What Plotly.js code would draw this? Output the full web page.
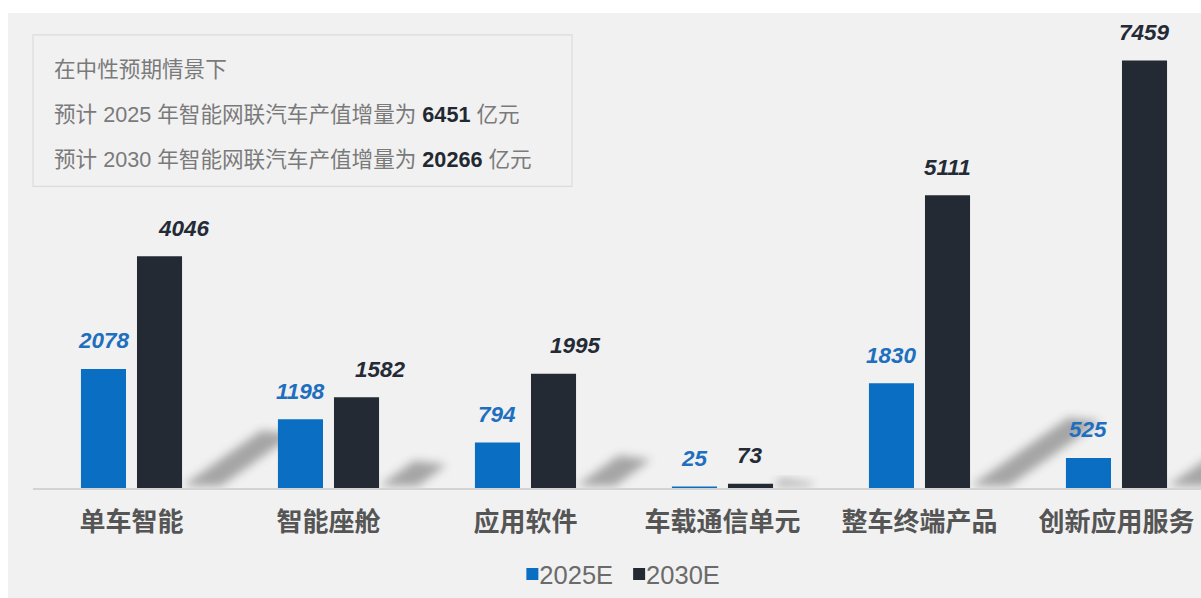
<!DOCTYPE html>
<html>
<head>
<meta charset="utf-8">
<script src="https://cdn.plot.ly/plotly-3.0.1.min.js"></script>
<style>
  html, body { margin: 0; padding: 0; background: #ffffff; width: 1201px; height: 598px; overflow: hidden; }
  #chart { position: absolute; left: 8px; top: 13px; width: 1193px; height: 585px; }
</style>
</head>
<body>
<div id="chart"></div>
<script>
// ---- data ----
const categories = ['单车智能', '智能座舱', '应用软件', '车载通信单元', '整车终端产品', '创新应用服务'];
const seriesNames = ['2025E', '2030E'];
const values2025 = [2078, 1198, 794, 25, 1830, 525];
const values2030 = [4046, 1582, 1995, 73, 5111, 7459];
const totals = { '2025': 6451, '2030': 20266 };
const boxLines = [
  '在中性预期情景下',
  '预计 2025 年智能网联汽车产值增量为 <b><span style="color:#222831">' + totals['2025'] + '</span></b> 亿元',
  '预计 2030 年智能网联汽车产值增量为 <b><span style="color:#222831">' + totals['2030'] + '</span></b> 亿元'
];

// ---- styling ----
const blue = '#0a6fc2';
const dark = '#232a33';
const blueText = '#1f6fbf';
const darkText = '#242b36';
const numFont = 'Liberation Sans, Arial, sans-serif';
const cjkFont = 'Liberation Sans, Noto Sans CJK SC, sans-serif';
const darkLabelShift = [24, 24, 22, 0, 0, 0];   // label placement offsets (px)

const traces = [
  { type: 'bar', name: seriesNames[0], x: categories, y: values2025,
    marker: { color: blue }, hoverinfo: 'skip' },
  { type: 'bar', name: seriesNames[1], x: categories, y: values2030,
    marker: { color: dark }, hoverinfo: 'skip' }
];

const annotations = [];
categories.forEach((c, i) => {
  annotations.push({ x: c, y: values2025[i], xref: 'x', yref: 'y', text: String(values2025[i]),
    showarrow: false, xshift: -28, yshift: 28, yanchor: 'middle', xanchor: 'center',
    font: { family: numFont, size: 22.5, color: blueText, style: 'italic', weight: 'bold' } });
  annotations.push({ x: c, y: values2030[i], xref: 'x', yref: 'y', text: String(values2030[i]),
    showarrow: false, xshift: 28 + darkLabelShift[i], yshift: 28, yanchor: 'middle', xanchor: 'center',
    font: { family: numFont, size: 22.5, color: darkText, style: 'italic', weight: 'bold' } });
});
const lineY = [0.882, 0.786, 0.692];
boxLines.forEach((t, i) => {
  annotations.push({ x: 0.0162, y: lineY[i], xref: 'paper', yref: 'paper', text: t,
    showarrow: false, xanchor: 'left', yanchor: 'middle', align: 'left',
    font: { family: cjkFont, size: 21.6, color: '#7a7a7a' } });
});

const shapes = [
  { type: 'rect', xref: 'paper', yref: 'paper', x0: 0, x1: 0.4615, y0: 0.6352, y1: 0.9539,
    line: { color: '#dcdcdc', width: 1.2 }, fillcolor: 'rgba(0,0,0,0)', layer: 'below' }
];
// decorative soft shadows behind the 2030E bars (length follows bar value)
categories.forEach((c, i) => {
  const L = values2030[i] * 0.018;
  const dy = L * 0.68;
  shapes.push({ type: 'path', xref: 'x', yref: 'y', xsizemode: 'pixel', ysizemode: 'pixel',
    xanchor: i + 0.25, yanchor: 0, layer: 'below',
    path: `M 2 2 L 40 2 L ${40 + L} ${dy + 4} L ${8 + L} ${dy + 8} Z`,
    fillcolor: 'rgb(60,60,60)', opacity: 0.42, line: { width: 0 } });
});

const layout = {
  width: 1193, height: 585,
  margin: { l: 25, r: 0, t: 0, b: 108 },
  paper_bgcolor: '#f1f1f1', plot_bgcolor: 'rgba(0,0,0,0)',
  barmode: 'group', bargap: 0.431, bargroupgap: 0.196,
  showlegend: true,
  legend: { orientation: 'h', x: 0.5123, xanchor: 'center', y: -0.182, yanchor: 'middle',
    font: { family: numFont, size: 25.5, color: '#6b6b6b' }, itemwidth: 30,
    bgcolor: 'rgba(0,0,0,0)', traceorder: 'normal' },
  xaxis: { type: 'category', categoryarray: categories, range: [-0.5, 5.429],
    showline: true, linecolor: '#d3d3d3', linewidth: 2, showgrid: false, zeroline: false,
    ticks: '', ticklabelstandoff: 10,
    tickfont: { family: 'Noto Sans CJK SC, sans-serif', size: 26, color: '#555555', weight: 'bold' } },
  yaxis: { range: [0, 8290], visible: false, showgrid: false, zeroline: false },
  annotations: annotations,
  shapes: shapes,
  font: { family: cjkFont }
};

Plotly.newPlot('chart', traces, layout, { staticPlot: true, displayModeBar: false }).then(gd => {
  const svg = gd.querySelector('svg.main-svg');
  const ns = 'http://www.w3.org/2000/svg';
  const defs = svg.querySelector('defs');
  const f = document.createElementNS(ns, 'filter');
  f.setAttribute('id', 'softblur');
  f.setAttribute('x', '-50%'); f.setAttribute('y', '-50%');
  f.setAttribute('width', '200%'); f.setAttribute('height', '200%');
  const b = document.createElementNS(ns, 'feGaussianBlur');
  b.setAttribute('stdDeviation', '5');
  f.appendChild(b); defs.appendChild(f);
  gd.querySelectorAll('path').forEach(p => {
    const fill = p.style.fill || '';
    if (fill.replace(/\s/g, '') === 'rgb(60,60,60)') p.setAttribute('filter', 'url(#softblur)');
  });
  // tighten legend: text right next to its square, entries closer together
  gd.querySelectorAll('.legend text.legendtext').forEach(t => {
    t.setAttribute('x', String(parseFloat(t.getAttribute('x')) - 13));
  });
  const groups = gd.querySelectorAll('.legend g.traces');
  if (groups.length > 1) {
    const g = groups[1];
    const tr = g.getAttribute('transform') || '';
    const m = tr.match(/translate\(\s*([-\d.]+)[ ,]+([-\d.]+)\s*\)/);
    if (m) g.setAttribute('transform', `translate(${parseFloat(m[1]) - 12},${m[2]})`);
  }
});
</script>
</body>
</html>
